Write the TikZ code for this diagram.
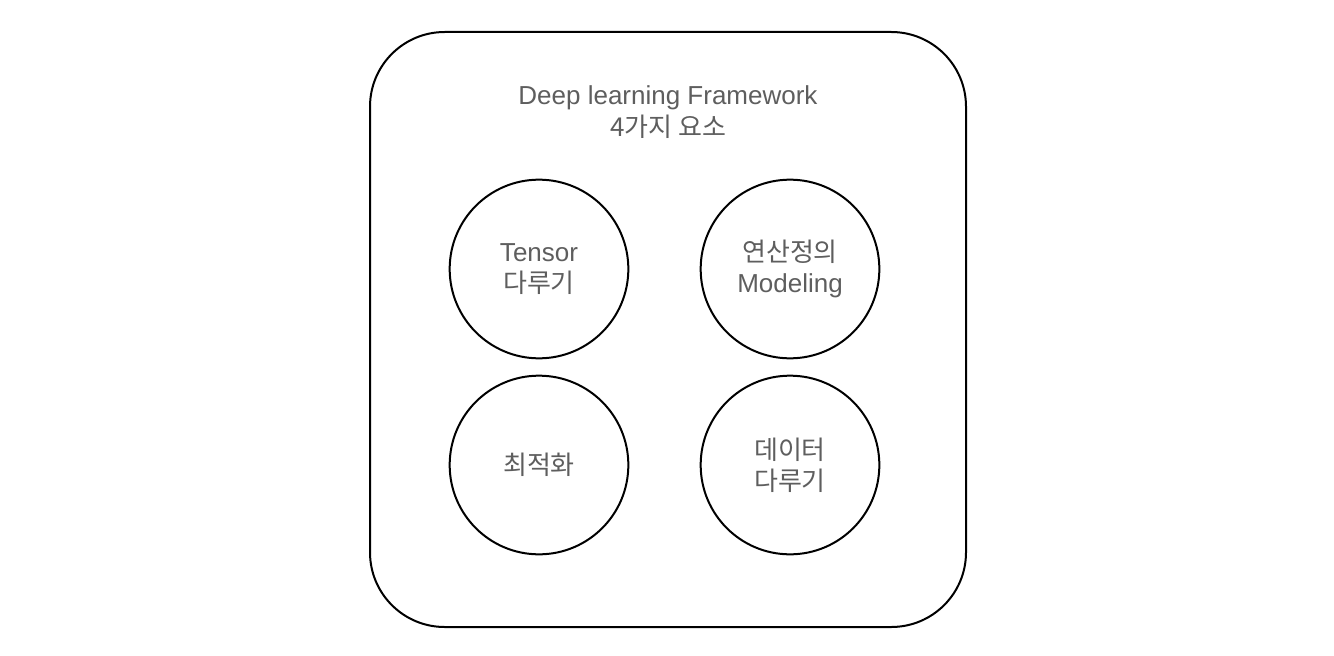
\documentclass[tikz,border=0pt]{standalone}
\usepackage{fontspec}
\setmainfont{Liberation Sans}
\newfontfamily\cjk{Noto Sans CJK KR}
\definecolor{txtgray}{RGB}{94,94,94}

\tikzset{every picture/.style={line width=1.5pt}}
\tikzset{
	part/.style={draw, circle, minimum size=134pt, inner sep=0pt, align=center,
		text=txtgray, font=\fontsize{19.5}{24}\selectfont},
	title/.style={align=center, text=txtgray, inner sep=0.75pt, font=\fontsize{19.5}{24}\selectfont}
}

\begin{document}
\begin{tikzpicture}[x=0.75pt,y=0.75pt,yscale=-1,xscale=1]
	%set diagram left start at 0, and has height of 656
	\useasboundingbox (0,0) rectangle (1334,656);
	
	%Rounded Rect [id:frame] 
	\draw [rounded corners=56pt] (370,32) rectangle (966,627);
	
	% Text Node
	\node [title] (head) at (668,112) {Deep learning Framework\\{\cjk 4가지 요소}};
	
	%Shape: Circle [id:tensor] 
	\node [part] (tensor) at (539,269) {Tensor\\[-1pt]{\cjk 다루기}};
	%Shape: Circle [id:model] 
	\node [part] (model) at (790,269) {{\cjk 연산정의}\\[-1pt]Modeling};
	%Shape: Circle [id:optim] 
	\node [part] (optim) at (539,465) {\cjk 최적화};
	%Shape: Circle [id:data] 
	\node [part] (data) at (790,465) {{\cjk 데이터}\\[-1pt]{\cjk 다루기}};
	
\end{tikzpicture}
\end{document}
